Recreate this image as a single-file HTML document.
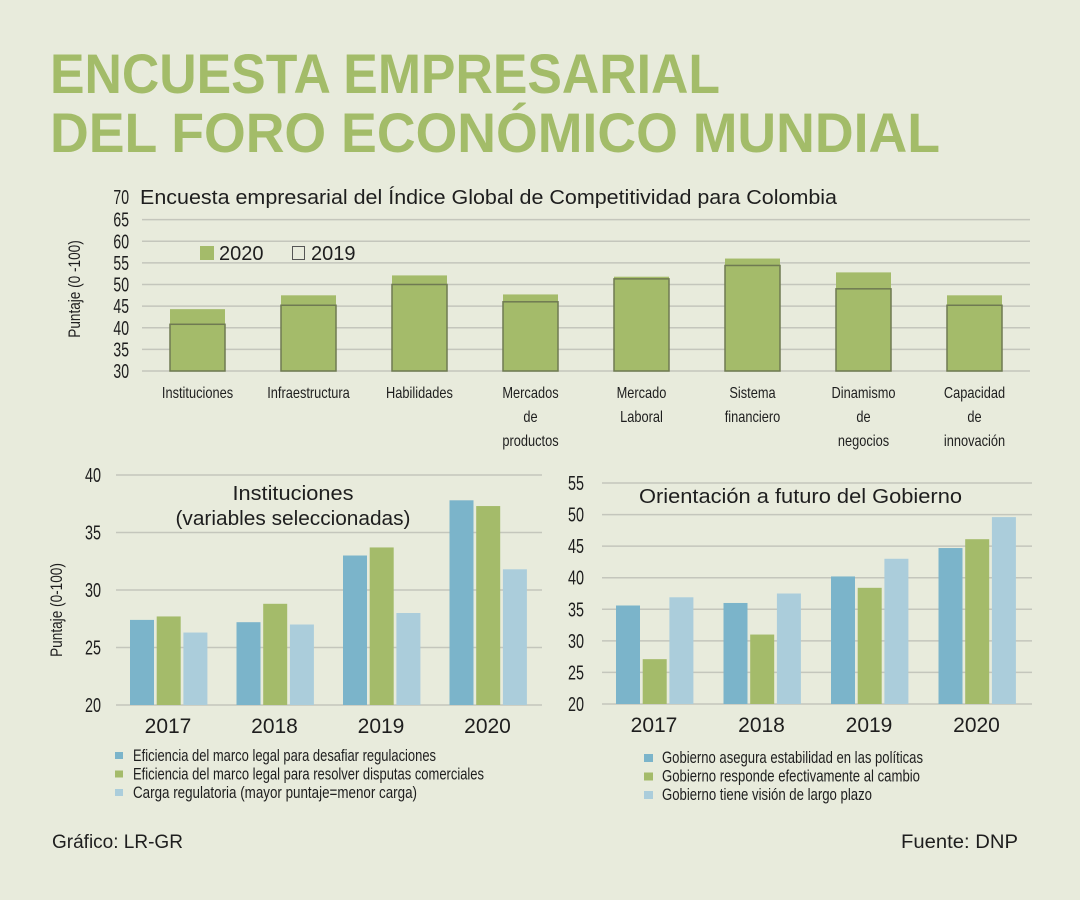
<!DOCTYPE html>
<html><head><meta charset="utf-8">
<style>
html,body{margin:0;padding:0;background:#e8ebdc;}
svg{display:block;}
text{font-family:"Liberation Sans Narrow","Liberation Sans",sans-serif;fill:#1e1e1e;}
.w{font-family:"Liberation Sans",sans-serif;}
</style></head>
<body>
<svg id="s" width="1080" height="900" viewBox="0 0 1080 900" xmlns="http://www.w3.org/2000/svg">
<rect width="1080" height="900" fill="#e8ebdc"/>
<text class="w" x="50" y="93" font-size="56" font-weight="bold" style="fill:#a3bc69" textLength="670" lengthAdjust="spacingAndGlyphs">ENCUESTA EMPRESARIAL</text>
<text class="w" x="50" y="152" font-size="56" font-weight="bold" style="fill:#a3bc69" textLength="890" lengthAdjust="spacingAndGlyphs">DEL FORO ECONÓMICO MUNDIAL</text>
<text class="w" x="140" y="204" font-size="20" textLength="697" lengthAdjust="spacingAndGlyphs">Encuesta empresarial del Índice Global de Competitividad para Colombia</text>
<g id="top"></g>
<g id="left"></g>
<g id="right"></g>
<text class="w" x="52" y="848" font-size="19">Gráfico: LR-GR</text>
<text class="w" x="901" y="848" font-size="19" textLength="117" lengthAdjust="spacingAndGlyphs">Fuente: DNP</text>
</svg>
<script>
const topCats=[["Instituciones"],["Infraestructura"],["Habilidades"],["Mercados","de","productos"],["Mercado","Laboral"],["Sistema","financiero"],["Dinamismo","de","negocios"],["Capacidad","de","innovación"]];
const top2020=[44.3,47.5,52.1,47.7,51.8,56.0,52.8,47.5];
const top2019=[40.8,45.2,50.0,46.0,51.3,54.4,49.0,45.2];
const topTicks=[30,35,40,45,50,55,60,65,70];
const years=["2017","2018","2019","2020"];
const instA=[27.4,27.2,33.0,37.8];
const instB=[27.7,28.8,33.7,37.3];
const instC=[26.3,27.0,28.0,31.8];
const instTicks=[20,25,30,35,40];
const govA=[35.6,36.0,40.2,44.7];
const govB=[27.1,31.0,38.4,46.1];
const govC=[36.9,37.5,43.0,49.6];
const govTicks=[20,25,30,35,40,45,50,55];
const instLegend=["Eficiencia del marco legal para desafiar regulaciones","Eficiencia del marco legal para resolver disputas comerciales","Carga regulatoria (mayor puntaje=menor carga)"];
const govLegend=["Gobierno asegura estabilidad en las políticas","Gobierno responde efectivamente al cambio","Gobierno tiene visión de largo plazo"];

const NS="http://www.w3.org/2000/svg";
function mk(p,tag,a){const e=document.createElementNS(NS,tag);for(const k in a)e.setAttribute(k,a[k]);p.appendChild(e);return e;}
function narrow(e,f){const w=e.getComputedTextLength();e.setAttribute('textLength',(w*f).toFixed(1));e.setAttribute('lengthAdjust','spacingAndGlyphs');}
const C1="#7bb4ca",C2="#a4bb6a",C3="#abcddb",GRID="#c4c6bc";

(function(){
 const g=document.getElementById('top');
 const y=v=>371-(v-30)*(173/40), x0=142, bw=111;
 topTicks.forEach(t=>{
  if(t<70){const l=mk(g,'line',{x1:142,x2:1030,y1:y(t),y2:y(t),stroke:GRID,'stroke-width':1.5});
  
  }
  const tx=mk(g,'text',{x:129,y:(t==70?204:y(t)+7),'font-size':20,'text-anchor':'end'});tx.textContent=t;
  
  
  narrow(tx,0.7);
 });
 const yl=mk(g,'text',{x:0,y:0,'font-size':17,'text-anchor':'middle',transform:'translate(80,289) rotate(-90)'});yl.textContent="Puntaje (0 -100)";
 
 
 narrow(yl,0.8);
 topCats.forEach((c,i)=>{
  const cx=x0+bw*(i+0.5);
  const r=mk(g,'rect',{x:cx-27.5,y:y(top2020[i]),width:55,height:371-y(top2020[i]),fill:C2});
  
  
  const r2=mk(g,'rect',{x:cx-27.5,y:y(top2019[i]),width:55,height:371-y(top2019[i]),fill:'none',stroke:'#6f7a52','stroke-width':1.5});
  
  
  c.forEach((s,j)=>{const t=mk(g,'text',{x:cx,y:398+j*24,'font-size':16,'text-anchor':'middle'});t.textContent=s;
   
   
   narrow(t,0.8);});
 });
 const s1=mk(g,'rect',{x:200,y:246,width:14,height:14,fill:C2});
 
 
 const t1=mk(g,'text',{x:219,y:260,'font-size':20,'class':'w'});t1.textContent="2020";
 
 
 const s2=mk(g,'rect',{x:292.5,y:246.5,width:12,height:13,fill:'none',stroke:'#555','stroke-width':1});
 
 
 const t2=mk(g,'text',{x:311,y:260,'font-size':20,'class':'w'});t2.textContent="2019";
 
 
})();

function small(id,ticks,series,legend,o){
 const g=document.getElementById(id);
 const y=v=>o.yb-(v-ticks[0])*(o.yb-o.yt)/(ticks[ticks.length-1]-ticks[0]);
 ticks.forEach(t=>{
  const l=mk(g,'line',{x1:o.x0,x2:o.x1,y1:y(t),y2:y(t),stroke:GRID,'stroke-width':1.5});
  
  
  const tx=mk(g,'text',{x:o.tickX,y:y(t)+7,'font-size':20,'text-anchor':'end'});tx.textContent=t;
  
  
  narrow(tx,0.72);
 });
 const gw=(o.x1-o.x0)/years.length, cols=[C1,C2,C3];
 years.forEach((yr,i)=>{
  const gx=o.x0+gw*i+14;
  series.forEach((s,k)=>{
   const r=mk(g,'rect',{x:gx+k*26.7,y:y(s[i]),width:24,height:o.yb-y(s[i]),fill:cols[k]});
   
   
  });
  const t=mk(g,'text',{x:gx+38,y:o.yb+28,'font-size':21,'text-anchor':'middle','class':'w'});t.textContent=yr;
  
  
 });
 legend.forEach((s,k)=>{
  const r=mk(g,'rect',{x:o.lx,y:o.ly+k*18.5-9,width:o.ls,height:o.ls-1,fill:cols[k]});
  
  
  const t=mk(g,'text',{x:o.lx+o.lt,y:o.ly+k*18.5,'font-size':17,textLength:o.lw[k],lengthAdjust:'spacingAndGlyphs'});t.textContent=s;
  
  
 });
 return g;
}
const gl=small('left',instTicks,[instA,instB,instC],instLegend,{x0:116,x1:542,yt:475,yb:705,tickX:101,lx:115,ly:761,ls:8,lt:18,lw:[303,351,284]});
const gr=small('right',govTicks,[govA,govB,govC],govLegend,{x0:602,x1:1032,yt:483,yb:704,tickX:584,lx:644,ly:763,ls:9,lt:18,lw:[261,258,210]});
[['Instituciones',293,500,gl,121,'middle'],['(variables seleccionadas)',293,525,gl,235,'middle'],['Orientación a futuro del Gobierno',639,503,gr,323,'start']].forEach(a=>{
 const t=mk(a[3],'text',{x:a[1],y:a[2],'font-size':20,'class':'w','text-anchor':a[5]});
 t.textContent=a[0];
 
 
 t.setAttribute('textLength',a[4]);
 t.setAttribute('lengthAdjust','spacingAndGlyphs');
});
const yl=mk(gl,'text',{x:0,y:0,'font-size':17,'text-anchor':'middle',transform:'translate(62,610) rotate(-90)'});yl.textContent="Puntaje (0-100)";


narrow(yl,0.8);
</script>
</body></html>
